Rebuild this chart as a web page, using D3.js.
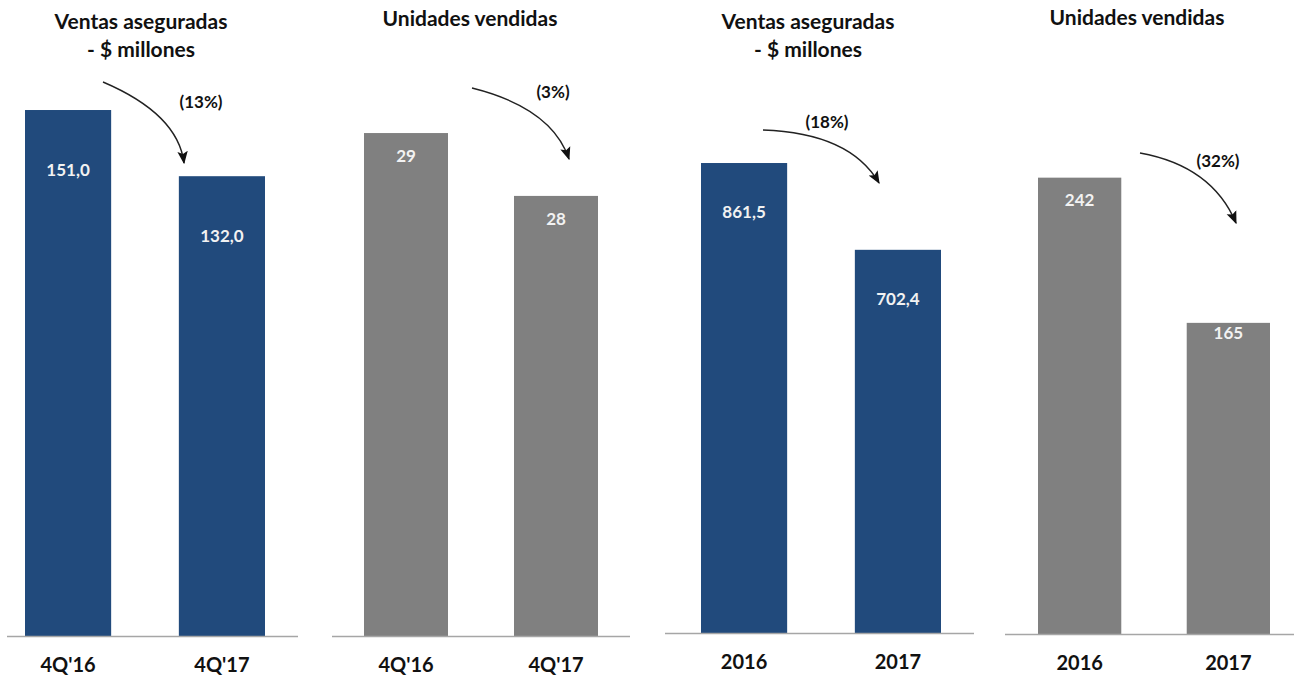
<!DOCTYPE html>
<html>
<head>
<meta charset="utf-8">
<script src="https://cdnjs.cloudflare.com/ajax/libs/d3/7.8.5/d3.min.js"></script>
<style>
  html, body { margin: 0; padding: 0; background: #ffffff; }
  svg { display: block; }
  text { font-family: Lato, "Open Sans", "DejaVu Sans", sans-serif; }
</style>
</head>
<body>
<svg id="chart" width="1294" height="675"></svg>
<script>
// ---- Data ----
const titleSales = ["Ventas aseguradas", "- $ millones"];
const titleUnits = ["Unidades vendidas"];
const categoriesQuarter = ["4Q'16", "4Q'17"];
const categoriesYear = ["2016", "2017"];
const salesQuarter = [151.0, 132.0];
const unitsQuarter = [29, 28];
const salesYear = [861.5, 702.4];
const unitsYear = [242, 165];
const changeLabels = ["(13%)", "(3%)", "(18%)", "(32%)"];

// ---- Styling / layout ----
const BLUE = "#214a7c";
const GRAY = "#808080";
const fmtDec = v => d3.format(".1f")(v).replace(".", ",");
const fmtInt = v => d3.format("d")(v);

const panels = [
  { title: titleSales, cats: categoriesQuarter, vals: salesQuarter, color: BLUE, fmt: fmtDec,
    xr: [25, 265], axis: [7, 298], base: 636, domain: [0, 171.1], top: 40,
    titleX: 141, titleY: [22, 50], labelDy: [60, 60],
    arrow: [[103, 82], [178, 114], [184, 163]], change: [201, 102] },
  { title: titleUnits, cats: categoriesQuarter, vals: unitsQuarter, color: GRAY, fmt: fmtInt,
    xr: [364, 598], axis: [332, 630], base: 636, domain: [21, 30.48], top: 40,
    titleX: 470, titleY: [19], labelDy: [23, 23],
    arrow: [[472, 88], [552, 108], [569, 159]], change: [553, 92] },
  { title: titleSales, cats: categoriesYear, vals: salesYear, color: BLUE, fmt: fmtDec,
    xr: [701, 941], axis: [665, 974], base: 633, domain: [0, 1087], top: 40,
    titleX: 808, titleY: [22, 50], labelDy: [49, 49],
    arrow: [[763, 130], [850, 133], [879, 183]], change: [827, 122] },
  { title: titleUnits, cats: categoriesYear, vals: unitsYear, color: GRAY, fmt: fmtInt,
    xr: [1038, 1270], axis: [1005, 1294], base: 634, domain: [0, 315], top: 40,
    titleX: 1137, titleY: [18], labelDy: [22, 10],
    arrow: [[1140, 153], [1212, 166], [1236, 223]], change: [1218, 161] }
];

const svg = d3.select("#chart");

svg.append("defs").append("marker")
  .attr("id", "arrowhead")
  .attr("viewBox", "0 0 10 10")
  .attr("refX", 9).attr("refY", 5)
  .attr("markerWidth", 13).attr("markerHeight", 13)
  .attr("markerUnits", "userSpaceOnUse")
  .attr("orient", "auto")
  .append("path")
  .attr("d", "M0,1 L10,5 L0,9 L2,5 Z")
  .attr("fill", "#111");

panels.forEach((p, i) => {
  const g = svg.append("g");
  const x = d3.scaleBand().domain(p.cats).range(p.xr).paddingInner(0.44).paddingOuter(0);
  const y = d3.scaleLinear().domain(p.domain).range([p.base, p.top]);

  // bars
  g.selectAll("rect.bar").data(p.vals).join("rect")
    .attr("class", "bar")
    .attr("x", (d, j) => x(p.cats[j]))
    .attr("width", x.bandwidth())
    .attr("y", d => y(d))
    .attr("height", d => p.base - y(d))
    .attr("fill", p.color);

  // baseline
  g.append("line")
    .attr("x1", p.axis[0]).attr("x2", p.axis[1])
    .attr("y1", p.base + 0.5).attr("y2", p.base + 0.5)
    .attr("stroke", "#a6a6a6").attr("stroke-width", 1.5);

  // category labels (axis)
  const axis = d3.axisBottom(x).tickSize(0).tickPadding(0);
  const ax = g.append("g").attr("transform", `translate(0,${p.base})`).call(axis);
  ax.select(".domain").remove();
  ax.selectAll("text")
    .attr("y", 29)
    .attr("dy", "0.35em")
    .attr("font-family", "Lato, 'Open Sans', sans-serif")
    .attr("font-size", 20)
    .attr("font-weight", "bold")
    .attr("fill", "#111");

  // value labels
  g.selectAll("text.val").data(p.vals).join("text")
    .attr("class", "val")
    .attr("x", (d, j) => x(p.cats[j]) + x.bandwidth() / 2)
    .attr("y", (d, j) => y(d) + p.labelDy[j])
    .attr("dy", "0.35em")
    .attr("text-anchor", "middle")
    .attr("font-size", 17)
    .attr("font-weight", "bold")
    .attr("fill", "#f2f2f2")
    .text(d => p.fmt(d));

  // titles
  p.title.forEach((t, k) => {
    g.append("text")
      .attr("x", p.titleX).attr("y", p.titleY[k])
      .attr("dy", "0.35em")
      .attr("text-anchor", "middle")
      .attr("font-size", 21)
      .attr("font-weight", "bold")
      .attr("fill", "#111")
      .text(t);
  });

  // arrow
  const [a, c, b] = p.arrow;
  g.append("path")
    .attr("d", `M${a[0]},${a[1]} Q${c[0]},${c[1]} ${b[0]},${b[1]}`)
    .attr("fill", "none")
    .attr("stroke", "#222")
    .attr("stroke-width", 1.4)
    .attr("marker-end", "url(#arrowhead)");

  // change label
  g.append("text")
    .attr("x", p.change[0]).attr("y", p.change[1])
    .attr("dy", "0.35em")
    .attr("text-anchor", "middle")
    .attr("font-size", 17)
    .attr("font-weight", "bold")
    .attr("fill", "#111")
    .text(changeLabels[i]);
});
</script>
</body>
</html>
